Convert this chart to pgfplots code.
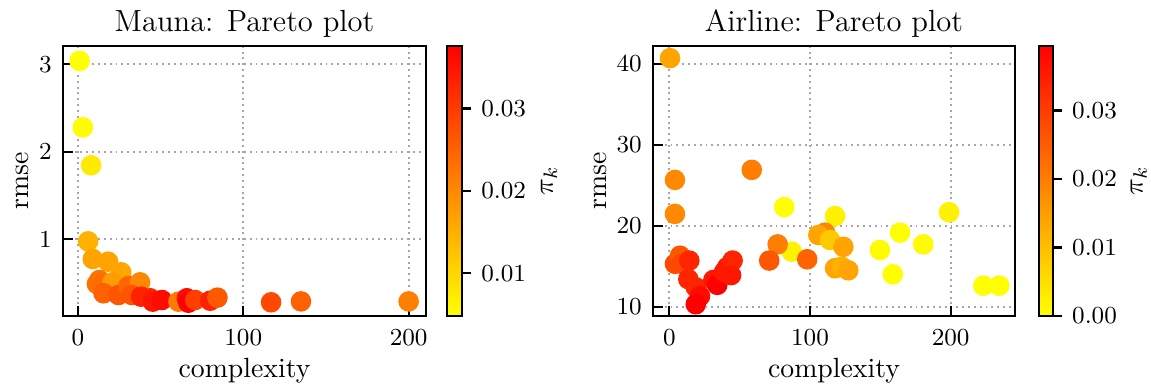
\documentclass[border=0pt]{standalone}
\usepackage{fontspec}
\usepackage{pgfplots}
\usepackage{pgfplotstable}
\pgfplotsset{compat=1.18}

% complexity, rmse, mixture weight pi_k
\pgfplotstableread{
x      y      c
1      3.04   0.0048
3      2.28   0.0050
8      1.846  0.0075
6.2    0.977  0.0146
9      0.775  0.0165
18.3   0.744  0.0165
26.2   0.623  0.0160
13     0.535  0.0230
11.5   0.49   0.0230
14.5   0.478  0.0235
21     0.508  0.0175
15.5   0.383  0.0250
24.5   0.363  0.0265
30.6   0.466  0.0245
37.6   0.508  0.0200
32.6   0.363  0.0265
38.2   0.344  0.0330
43.7   0.326  0.0330
45.3   0.287  0.0345
50.8   0.306  0.0360
60.8   0.287  0.0215
65.9   0.326  0.0360
66.8   0.275  0.0376
70.9   0.306  0.0295
80     0.298  0.0330
84.4   0.333  0.0260
116.8  0.28   0.0280
134.9  0.29   0.0250
200    0.29   0.0210
}\mauna

\pgfplotstableread{
x      y      c
0.5    40.7   0.0140
4      25.66  0.0180
4      21.46  0.0180
58.6   26.9   0.0200
81.7   22.3   0.0000
117.8  21.2   0.0020
198.8  21.67  0.0020
110.7  19.15  0.0185
105.9  18.86  0.0140
114.2  18.24  0.0080
123.7  17.4   0.0140
164    19.15  0.0000
180.5  17.7   0.0005
149.7  17.0   0.0005
158.8  14.0   0.0000
223.2  12.6   0.0000
234.5  12.6   0.0000
87     16.8   0.0020
77     17.7   0.0200
71     15.7   0.0260
98     15.86  0.0240
117.8  14.75  0.0140
122.5  14.94  0.0120
127.2  14.5   0.0140
4      15.3   0.0280
7.6    16.3   0.0260
8.8    15.3   0.0280
14.2   15.7   0.0335
13.5   13.4   0.0335
18.8   12.4   0.0335
21.8   11.3   0.0375
18.8   10.3   0.0394
31.3   13.3   0.0355
34.1   12.7   0.0394
38.9   14.3   0.0355
41.2   14.9   0.0355
45     15.7   0.0335
43.9   13.9   0.0355
}\airline

\pgfplotsset{
  colormap={autumnrev}{rgb=(1,1,0) rgb=(1,0,0)},
  pareto/.style={
    scale only axis,
    height=97.2pt,
    axis line style={line width=0.9pt},
    tick align=inside,
    major tick length=3.5pt,
    every tick/.style={black, line width=0.8pt},
    xtick pos=bottom, ytick pos=left,
    xtick={0,100,200},
    grid=major,
    major grid style={black!35, line width=0.7pt, dash pattern=on 0.7pt off 1.4pt},
    tick label style={font=\fontsize{8.8}{10}\selectfont},
    xticklabel style={yshift=-1.2pt},
    yticklabel style={xshift=-0.5pt},
    /pgf/number format/assume math mode=true,
    label style={font=\fontsize{9.4}{11}\selectfont},
    every axis title shift=0pt,
    every axis title/.style={font=\fontsize{11}{13}\selectfont, at={(axis description cs:0.5,1)}, anchor=base, yshift=5.4pt},
    every axis x label/.style={at={(axis description cs:0.5,0)}, anchor=base, yshift=-22.3pt},
    xlabel={complexity},
    ylabel={rmse},
    colormap name=autumnrev,
    colorbar,
    colorbar shift/.style={},
  },
  cbar/.style={
    at={(parent axis.north east)}, anchor=north west,
    scale only axis, height=97.2pt,
    axis line style={line width=0.8pt},
    tick align=outside, major tick length=3.5pt,
    every tick/.style={black, line width=0.8pt},
    ytick pos=right, yticklabel pos=right,
    scaled y ticks=false,
    tick label style={font=\fontsize{8.8}{10}\selectfont},
    yticklabel style={/pgf/number format/.cd, fixed, fixed zerofill, precision=2, assume math mode=true},
    label style={font=\fontsize{9.4}{11}\selectfont},
    ylabel={$\pi_k$},
  },
  pts/.style={
    scatter, only marks, mark=*, mark size=3.5pt,
    point meta=explicit,
    scatter/use mapped color={draw=mapped color, fill=mapped color},
  },
}

\begin{document}
\begin{tikzpicture}
\path[use as bounding box] (0,0) rectangle (414.36pt,-140.04pt);

\begin{axis}[
  pareto,
  at={(22.68pt,-113.76pt)}, anchor=south west,
  width=130.68pt,
  xmin=-9, xmax=210.5, ymin=0.123, ymax=3.21,
  ytick={1,2,3},
  title={Mauna: Pareto plot},
  every axis y label/.style={at={(axis description cs:-0.0964,0.5)}, rotate=90, anchor=base},
  point meta min=0.0048, point meta max=0.0376,
  colorbar style={
    cbar, xshift=7.56pt, width=5.3pt,
    ytick={0.01,0.02,0.03},
    every axis y label/.style={at={(axis description cs:7.19,0.5)}, rotate=90, anchor=base},
  },
]
\addplot[pts] table[x=x, y=y, meta=c] {\mauna};
\end{axis}

\begin{axis}[
  pareto,
  at={(235.08pt,-113.76pt)}, anchor=south west,
  width=130.32pt,
  xmin=-11.6, xmax=245.7, ymin=8.85, ymax=42.2,
  ytick={10,20,30,40},
  title={Airline: Pareto plot},
  every axis y label/.style={at={(axis description cs:-0.1271,0.5)}, rotate=90, anchor=base},
  point meta min=0, point meta max=0.0394,
  colorbar style={
    cbar, xshift=8.75pt, width=4.8pt,
    ytick={0,0.01,0.02,0.03},
    every axis y label/.style={at={(axis description cs:7.75,0.5)}, rotate=90, anchor=base},
  },
]
\addplot[pts] table[x=x, y=y, meta=c] {\airline};
\end{axis}
\end{tikzpicture}
\end{document}
